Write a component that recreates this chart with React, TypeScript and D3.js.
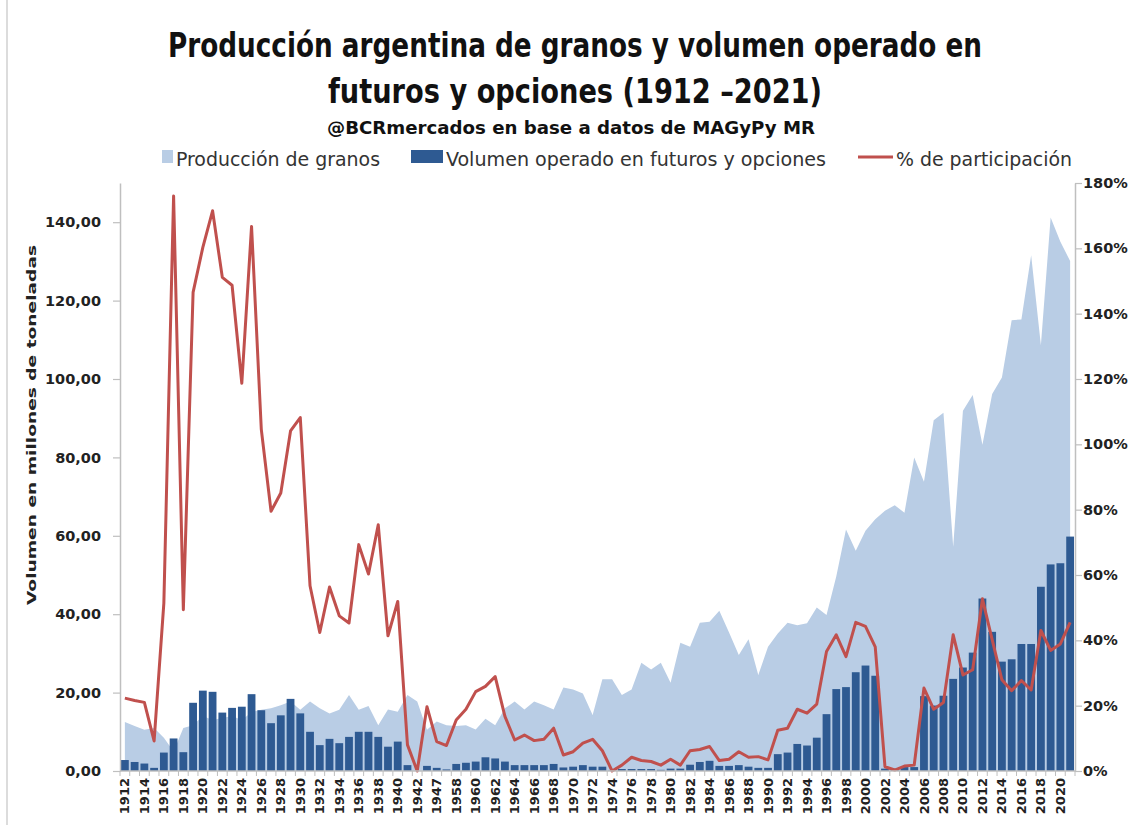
import { useRef, useEffect } from 'react';
import * as d3 from 'd3';

const years = [
  '1912', '1913', '1914', '1915', '1916', '1917', '1918', '1919', '1920', '1921',
  '1922', '1923', '1924', '1925', '1926', '1927', '1928', '1929', '1930', '1931',
  '1932', '1933', '1934', '1935', '1936', '1937', '1938', '1939', '1940', '1941',
  '1942', '1943', '1947', '1957', '1958', '1959', '1960', '1961', '1962', '1963',
  '1964', '1965', '1966', '1967', '1968', '1969', '1970', '1971', '1972', '1973',
  '1974', '1975', '1976', '1977', '1978', '1979', '1980', '1981', '1982', '1983',
  '1984', '1985', '1986', '1987', '1988', '1989', '1990', '1991', '1992', '1993',
  '1994', '1995', '1996', '1997', '1998', '1999', '2000', '2001', '2002', '2003',
  '2004', '2005', '2006', '2007', '2008', '2009', '2010', '2011', '2012', '2013',
  '2014', '2015', '2016', '2017', '2018', '2019', '2020', '2021',
];

// Producción de granos (millones de t)
const production = [
  12.5, 11.5, 10.5, 11.0, 8.5, 5.0, 11.0, 11.7, 14.0, 13.0,
  13.5, 14.0, 13.0, 15.0, 15.6, 16.0, 16.8, 17.7, 15.6, 17.7,
  16.0, 14.7, 15.6, 19.4, 15.6, 16.6, 11.7, 15.7, 15.1, 19.4,
  17.7, 10.5, 12.6, 11.7, 11.5, 11.7, 10.6, 13.3, 11.7, 16.0,
  17.7, 15.7, 17.7, 16.8, 15.7, 21.3, 20.8, 19.8, 14.3, 23.4,
  23.4, 19.4, 20.8, 27.6, 25.9, 27.6, 22.5, 32.7, 31.7, 37.8,
  38.1, 40.9, 35.3, 29.6, 33.6, 24.5, 31.7, 35.1, 37.8, 37.2,
  37.7, 41.7, 39.8, 49.6, 61.6, 56.2, 61.3, 64.2, 66.4, 67.8,
  65.9, 80.0, 73.8, 89.5, 91.4, 57.2, 91.9, 95.9, 83.2, 96.2,
  100.4, 115.0, 115.2, 131.6, 108.6, 141.2, 135.0, 130.1,
];

// Volumen operado en futuros y opciones (millones de t)
const volume = [
  2.8, 2.3, 1.9, 0.8, 4.7, 8.3, 4.8, 17.4, 20.5, 20.2,
  14.9, 16.1, 16.4, 19.6, 15.5, 12.2, 14.2, 18.4, 14.7, 10.0,
  6.6, 8.2, 7.1, 8.7, 10.0, 10.0, 8.7, 6.2, 7.5, 1.5,
  0.0, 1.3, 0.8, 0.4, 1.8, 2.1, 2.4, 3.5, 3.2, 2.4,
  1.5, 1.5, 1.5, 1.5, 1.8, 0.9, 1.1, 1.5, 1.1, 1.1,
  0.1, 0.5, 0.5, 0.5, 0.5, 0.3, 0.6, 0.6, 1.6, 2.3,
  2.6, 1.3, 1.3, 1.5, 1.1, 0.8, 0.8, 4.3, 4.7, 6.9,
  6.5, 8.5, 14.5, 20.9, 21.4, 25.2, 26.9, 24.3, 0.6, 0.6,
  1.0, 1.0, 19.1, 16.7, 19.2, 23.5, 26.4, 30.2, 44.0, 35.5,
  27.9, 28.5, 32.4, 32.4, 47.0, 52.7, 53.0, 59.8,
];

// % de participación
const share = [
  22.3, 21.6, 21.0, 9.2, 51.4, 176.0, 49.4, 146.5, 160.3, 171.5,
  151.1, 148.7, 118.7, 166.7, 104.6, 79.5, 85.1, 104.1, 108.2, 56.7,
  42.4, 56.3, 47.5, 45.3, 69.3, 60.3, 75.4, 41.4, 51.9, 8.0,
  0.0, 19.7, 9.0, 7.8, 15.6, 18.9, 24.3, 25.9, 28.9, 16.7,
  9.5, 11.0, 9.3, 9.7, 13.1, 4.9, 5.9, 8.5, 9.7, 6.2,
  0.0, 1.8, 4.2, 3.2, 2.9, 1.8, 3.6, 1.8, 6.2, 6.6,
  7.5, 3.2, 3.6, 5.9, 4.2, 4.4, 3.4, 12.5, 13.1, 18.9,
  17.7, 20.5, 36.6, 41.7, 35.0, 45.5, 44.3, 38.0, 1.3, 0.3,
  1.5, 1.8, 25.4, 18.9, 21.0, 41.7, 29.4, 31.0, 52.7, 40.2,
  27.9, 24.6, 27.7, 24.8, 43.0, 36.9, 38.9, 45.5,
];

const leftTicks = [0, 20, 40, 60, 80, 100, 120, 140];
const rightTicks = [0, 20, 40, 60, 80, 100, 120, 140, 160, 180];

const W = 1135;
const H = 825;
const plot = { left: 120, right: 1075, top: 183, bottom: 771 };

const esLocale = d3.formatLocale({ decimal: ',', thousands: '.', grouping: [3], currency: ['', ''] });
const fmtLeft = esLocale.format('.2f');

const AREA = '#B9CDE5';
const BAR = '#2E5A92';
const LINE = '#C0504D';
const AXIS = '#BFBFBF';
const NARROW = '"Liberation Sans Narrow", "DejaVu Sans Condensed", "Arial Narrow", sans-serif';
const BOLD = '"DejaVu Sans", Verdana, sans-serif';

export default function App() {
  const leftRef = useRef<SVGGElement>(null);
  const rightRef = useRef<SVGGElement>(null);

  const x = d3.scaleBand<string>().domain(years).range([plot.left, plot.right]).padding(0);
  const y = d3.scaleLinear().domain([0, 150]).range([plot.bottom, plot.top]);
  const yPct = d3.scaleLinear().domain([0, 180]).range([plot.bottom, plot.top]);
  const bw = x.bandwidth();
  const cx = (i: number) => (x(years[i]) as number) + bw / 2;

  const areaPath = d3.area<number>()
    .x((_, i) => cx(i))
    .y0(y(0))
    .y1((d) => y(d))(production) as string;

  const linePath = d3.line<number>()
    .x((_, i) => cx(i))
    .y((d) => yPct(d))(share) as string;

  useEffect(() => {
    if (leftRef.current) {
      const g = d3.select(leftRef.current);
      g.selectAll('*').remove();
      g.call(d3.axisLeft(y).tickValues(leftTicks).tickSize(7).tickSizeOuter(0).tickFormat((d) => fmtLeft(d as number)));
      g.select('.domain').attr('stroke', AXIS).attr('stroke-width', 1.5);
      g.selectAll('.tick line').attr('stroke', AXIS).attr('stroke-width', 1.2);
      g.selectAll('.tick text')
        .attr('font-family', BOLD)
        .attr('font-weight', 700)
        .attr('font-size', 14.5)
        .attr('fill', '#222')
        .attr('x', -19);
    }
    if (rightRef.current) {
      const g = d3.select(rightRef.current);
      g.selectAll('*').remove();
      g.call(d3.axisRight(yPct).tickValues(rightTicks).tickSize(7).tickSizeOuter(0).tickFormat((d) => `${d}%`));
      g.select('.domain').attr('stroke', AXIS).attr('stroke-width', 1.5);
      g.selectAll('.tick line').attr('stroke', AXIS).attr('stroke-width', 1.2);
      g.selectAll('.tick text')
        .attr('font-family', BOLD)
        .attr('font-weight', 700)
        .attr('font-size', 14.5)
        .attr('fill', '#222')
        .attr('x', 8);
    }
  }, []);

  return (
    <div style={{ position: 'absolute', left: 0, top: 0 }}>
      <svg width={W} height={H} style={{ display: 'block', background: '#fff' }}>
        <line x1={7} x2={7} y1={0} y2={H} stroke="#D0D0D0" strokeWidth={1.5} />

        {/* title */}
        <g fontFamily={NARROW} fontWeight={700} fill="#111" textAnchor="middle">
          <text x={575} y={57} fontSize={33} textLength={814} lengthAdjust="spacingAndGlyphs">
            Producción argentina de granos y volumen operado en
          </text>
          <text x={575} y={103} fontSize={33} textLength={494} lengthAdjust="spacingAndGlyphs">
            futuros y opciones (1912 –2021)
          </text>
          <text x={571} y={134} fontSize={17} textLength={488} lengthAdjust="spacingAndGlyphs">
            @BCRmercados en base a datos de MAGyPy MR
          </text>
        </g>

        {/* legend */}
        <g fontFamily={NARROW} fontSize={20} fill="#333">
          <rect x={162} y={150} width={11} height={13} fill={AREA} />
          <text x={176} y={166} textLength={204} lengthAdjust="spacingAndGlyphs">Producción de granos</text>
          <rect x={411} y={150} width={32} height={13} fill={BAR} />
          <text x={446} y={166} textLength={380} lengthAdjust="spacingAndGlyphs">Volumen operado en futuros y opciones</text>
          <line x1={858} x2={893} y1={157} y2={157} stroke={LINE} strokeWidth={3} />
          <text x={896} y={166} textLength={176} lengthAdjust="spacingAndGlyphs">% de participación</text>
        </g>

        {/* y axis title */}
        <text
          transform="translate(36, 425) rotate(-90)"
          textAnchor="middle"
          fontFamily={BOLD}
          fontWeight={700}
          fontSize={13}
          fill="#222"
          textLength={360}
          lengthAdjust="spacingAndGlyphs"
        >
          Volumen en millones de toneladas
        </text>

        {/* production area */}
        <path d={areaPath} fill={AREA} />

        {/* volume bars */}
        <g>
          {volume.map((v, i) => (
            <rect
              key={years[i]}
              x={(x(years[i]) as number) + bw * 0.1}
              y={y(v)}
              width={bw * 0.8}
              height={y(0) - y(v)}
              fill={BAR}
            />
          ))}
        </g>

        {/* participation line */}
        <path d={linePath} fill="none" stroke={LINE} strokeWidth={3} strokeLinejoin="round" />

        {/* axes */}
        <g ref={leftRef} transform={`translate(${plot.left},0)`} />
        <g ref={rightRef} transform={`translate(${plot.right},0)`} />

        {/* x axis */}
        <line x1={plot.left} x2={plot.right} y1={plot.bottom} y2={plot.bottom} stroke={AXIS} strokeWidth={1.5} />
        {years.map((yr) => (
          <line
            key={`t${yr}`}
            x1={x(yr) as number}
            x2={x(yr) as number}
            y1={plot.bottom}
            y2={plot.bottom + 5}
            stroke={AXIS}
            strokeWidth={1}
          />
        ))}
        <line x1={plot.right} x2={plot.right} y1={plot.bottom} y2={plot.bottom + 5} stroke={AXIS} />
        <g fontFamily={BOLD} fontWeight={700} fontSize={13} fill="#222">
          {years.map((yr, i) =>
            i % 2 === 0 ? (
              <text
                key={`l${yr}`}
                transform={`translate(${cx(i)}, ${plot.bottom + 7}) rotate(-90)`}
                textAnchor="end"
                dy="0.35em"
              >
                {yr}
              </text>
            ) : null
          )}
        </g>
      </svg>
    </div>
  );
}
